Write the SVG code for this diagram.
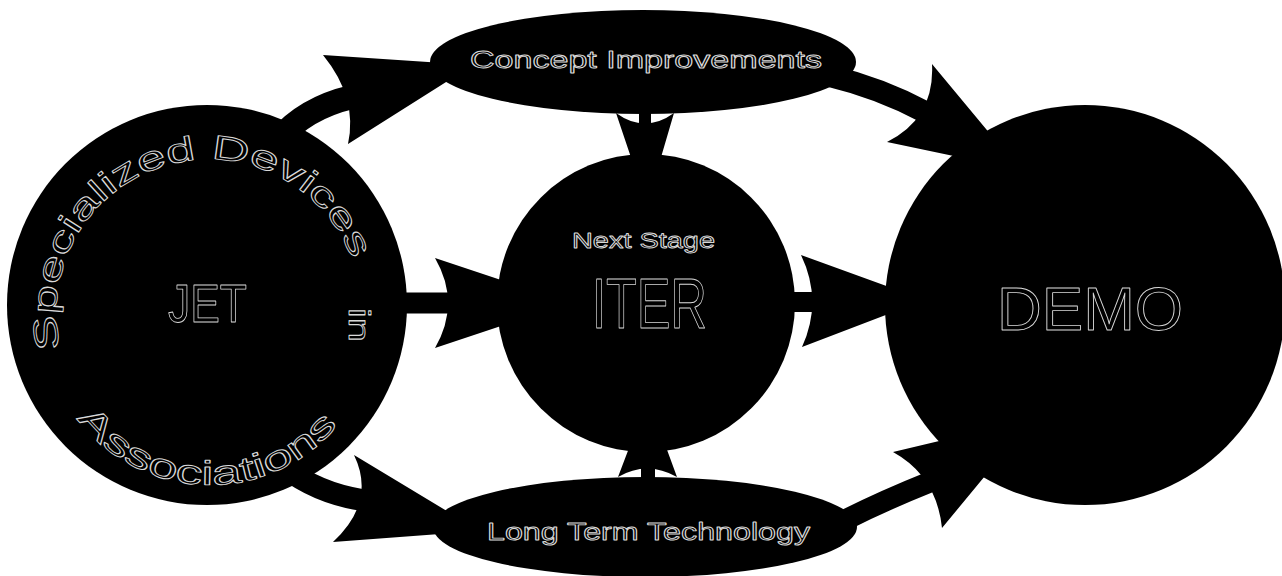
<svg xmlns="http://www.w3.org/2000/svg" width="1282" height="576" viewBox="0 0 1282 576">
<style>
.node{fill:#000}
.shaft{fill:none;stroke:#000;stroke-linecap:butt}
.head{fill:#000}
.lbl{font-family:"Liberation Sans",Arial,sans-serif;fill:#000;stroke:#d9d9d9;stroke-width:0.9;stroke-linejoin:round}
</style>
<defs>
<path id="arcTop" d="M 60.8,348.6 A 152 152 0 1 1 356.8,275.4"/>
<path id="arcBot" d="M 76.9,418.2 A 166 166 0 0 0 340.6,421.4"/>
</defs>
<rect width="1282" height="576" fill="#fff"/>
<g id="connectors">
  <path class="shaft" stroke-width="24" d="M 278,140 Q 305,108 352,97"/>
  <path class="head" d="M 473,65 L 323,55 Q 358,98 348,144 Z"/>
  <path class="shaft" stroke-width="22" d="M 830,76 Q 880,88 925,112"/>
  <path class="head" d="M 1020,170 L 932,64 Q 935,118 887,142 Z"/>
  <path class="shaft" stroke-width="21" d="M 400,303 L 450,303"/>
  <path class="head" d="M 570,303 L 435,258 Q 461,303 435,348 Z"/>
  <path class="shaft" stroke-width="20" d="M 790,302 L 815,302"/>
  <path class="head" d="M 925,300 L 801,255 Q 823,301 802,347 Z"/>
  <path class="shaft" stroke-width="22" d="M 285,468 Q 318,493 362,500"/>
  <path class="head" d="M 480,531 L 354,455 Q 376.5,501.5 333,542 Z"/>
  <path class="shaft" stroke-width="21" d="M 845,520 Q 885,500 930,482"/>
  <path class="head" d="M 1032,419 L 893,452 Q 936.5,476 942,528 Z"/>
  <path class="shaft" stroke-width="12" d="M 645,100 L 645,126"/>
  <path class="head" d="M 616,113 Q 645,134 674,113 L 647,205 Z"/>
  <path class="shaft" stroke-width="14" d="M 648,465 L 648,490"/>
  <path class="head" d="M 648,398 L 618,477 Q 647,460 677,477 Z"/>
</g>
<g id="node-jet">
  <circle class="node" cx="207" cy="305" r="200"/>
  <text class="lbl" font-size="34"><textPath href="#arcTop" textLength="462" lengthAdjust="spacingAndGlyphs">Specialized Devices</textPath></text>
  <text class="lbl" font-size="30" text-anchor="middle" textLength="34" lengthAdjust="spacingAndGlyphs" transform="translate(349,325) rotate(90)">in</text>
  <text class="lbl" font-size="34"><textPath href="#arcBot" textLength="300" lengthAdjust="spacingAndGlyphs">Associations</textPath></text>
  <text class="lbl" x="168" y="322" font-size="54" textLength="79" lengthAdjust="spacingAndGlyphs">JET</text>
</g>
<g id="node-concept">
  <ellipse class="node" cx="643" cy="62" rx="213" ry="52"/>
  <text class="lbl" x="470" y="68" font-size="23" textLength="352" lengthAdjust="spacingAndGlyphs">Concept Improvements</text>
</g>
<g id="node-iter">
  <circle class="node" cx="646" cy="303" r="149"/>
  <text class="lbl" x="572" y="248" font-size="22" textLength="143" lengthAdjust="spacingAndGlyphs">Next Stage</text>
  <text class="lbl" x="592" y="328" font-size="70" textLength="115" lengthAdjust="spacingAndGlyphs">ITER</text>
</g>
<g id="node-longterm">
  <ellipse class="node" cx="645" cy="527" rx="212" ry="50"/>
  <text class="lbl" x="487" y="540" font-size="23" textLength="323" lengthAdjust="spacingAndGlyphs">Long Term Technology</text>
</g>
<g id="node-demo">
  <circle class="node" cx="1085" cy="305" r="200"/>
  <text class="lbl" x="997" y="330" font-size="62" textLength="186" lengthAdjust="spacingAndGlyphs">DEMO</text>
</g>
</svg>
